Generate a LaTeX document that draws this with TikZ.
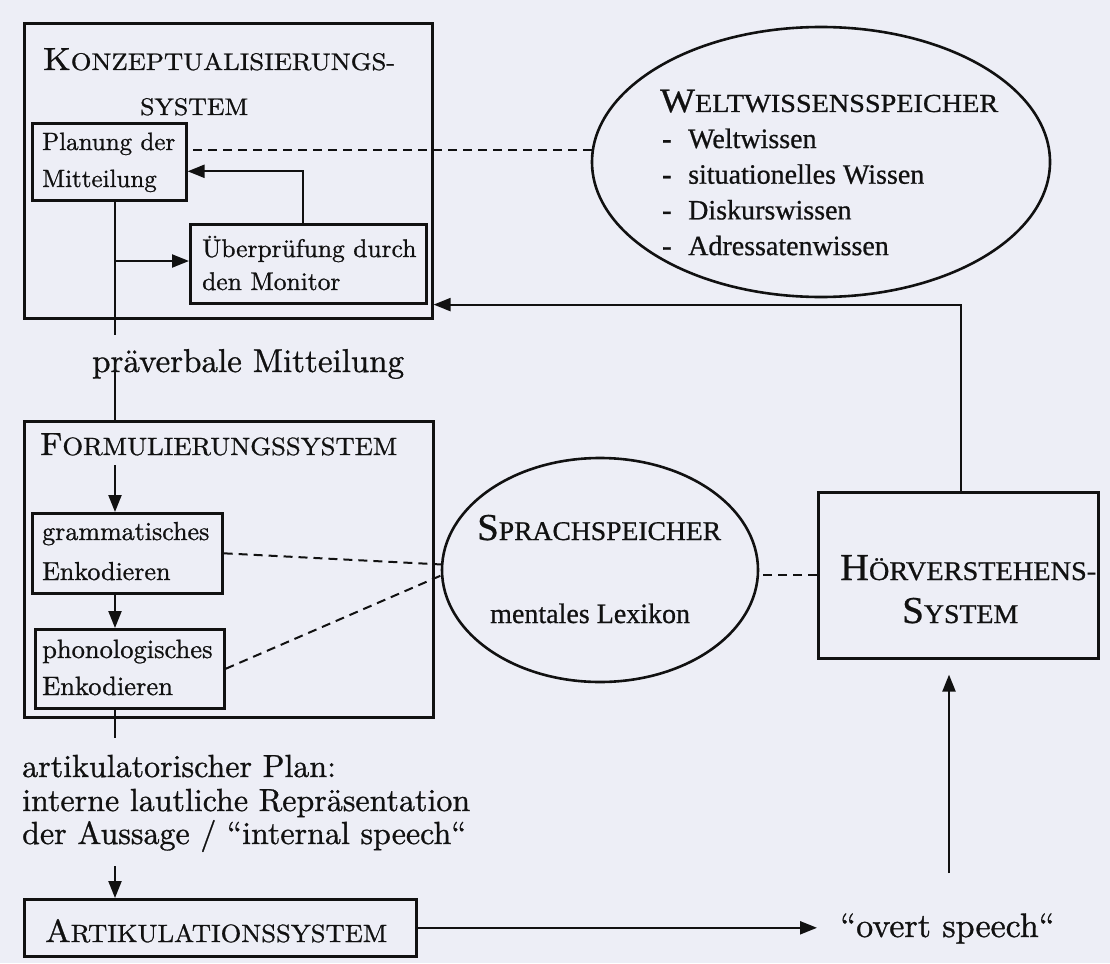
\documentclass[tikz,border=0pt]{standalone}
\usepackage{fontspec}
\usepackage{graphicx}
\usetikzlibrary{arrows.meta,shapes.geometric}
\setmainfont{lmroman10-regular.otf}[FakeBold=0.9]
\newfontfamily\tms{Liberation Serif}[FakeBold=0.7]
\definecolor{bg}{RGB}{237,238,246}
\definecolor{ink}{RGB}{17,17,17}
\newcommand\fs[1]{\fontsize{#1pt}{#1pt}\selectfont}
\newcommand\ttl[5]{\resizebox{#1pt}{\height}{\fs{#2}#4\fs{#3}#5}}
\begin{document}
\begin{tikzpicture}[x=1pt,y=-1pt,
  box/.style={draw=ink,line width=2.6pt,rectangle,inner sep=0pt,anchor=north west},
  lbl/.style={anchor=base west,inner sep=0pt,text=ink},
  conn/.style={draw=ink,line width=2.2pt},
  arr/.style={conn,-{Triangle[length=17pt,width=13pt]}},
  dsh/.style={draw=ink,line width=2pt,dash pattern=on 9pt off 6pt},
  oval/.style={draw=ink,ellipse,line width=2.6pt,inner sep=0pt}]
\fill[bg] (0,0) rectangle (1110,963);
\useasboundingbox (0,0) rectangle (1110,963);
\coordinate (axis) at (115,0);
% Konzeptualisierungssystem
\node[box,minimum width=408pt,minimum height=295pt] (konz) at (23,22) {};
\node[lbl] (konzt1) at (43,70) {\ttl{352}{32}{24}{K}{ONZEPTUALISIERUNGS-}};
\node[lbl] (konzt2) at (140,115) {\ttl{108}{24}{24}{}{SYSTEM}};
\node[box,minimum width=154pt,minimum height=77pt] (plan) at (31,122) {};
\node[lbl,font=\fs{25}] (plan1) at (42,150) {Planung der};
\node[lbl,font=\fs{25}] (plan2) at (42,187) {Mitteilung};
\node[box,minimum width=236pt,minimum height=79pt] (ueb) at (189,223) {};
\node[lbl,font=\fs{25.5}] (ueb1) at (202,257) {Überprüfung durch};
\node[lbl,font=\fs{25.5}] (ueb2) at (202,290) {den Monitor};
% Weltwissensspeicher
\node[oval,minimum width=458pt,minimum height=270pt] (welt) at (821,162) {};
\node[lbl,font=\tms] (weltt) at (660,112) {\ttl{338}{34}{26}{W}{ELTWISSENSSPEICHER}};
\foreach \t [count=\i] in {Weltwissen,situationelles Wissen,Diskurswissen,Adressatenwissen}{
  \node[lbl,font=\tms\fs{28}\bfseries] (wd\i) at (662,{148+35.7*(\i-1)}) {-};
  \node[lbl,font=\tms\fs{28}] (w\i) at (688,{148+35.7*(\i-1)}) {\t};
}
% praeverbale Mitteilung
\node[lbl,font=\fs{33}] (pm) at (92,372) {präverbale Mitteilung};
\coordinate (pmtop) at (115,335);
\coordinate (pmbot) at (115,370);
% Formulierungssystem
\node[box,minimum width=409pt,minimum height=296pt] (form) at (23,420) {};
\node[lbl] (formt) at (40,455) {\ttl{357}{32}{25}{F}{ORMULIERUNGSSYSTEM}};
\coordinate (f0) at (115,465);
\node[box,minimum width=190pt,minimum height=80pt] (gram) at (31,512) {};
\node[lbl,font=\fs{26}] (gram1) at (42,540) {grammatisches};
\node[lbl,font=\fs{26}] (gram2) at (42,580) {Enkodieren};
\node[box,minimum width=189pt,minimum height=79pt] (phon) at (34,628) {};
\node[lbl,font=\fs{26.5}] (phon1) at (42,658) {phonologisches};
\node[lbl,font=\fs{26.5}] (phon2) at (42,695) {Enkodieren};
% Sprachspeicher
\node[oval,minimum width=316pt,minimum height=224pt] (spr) at (600,570) {};
\node[lbl,font=\tms] (sprt) at (477,540) {\ttl{244}{38}{27}{S}{PRACHSPEICHER}};
\node[lbl,font=\tms\fs{28}] (sprl) at (490,623) {mentales Lexikon};
% Hoerverstehenssystem
\node[box,minimum width=280pt,minimum height=166pt] (hoer) at (817,491) {};
\node[lbl,font=\tms] (hoert1) at (840,580) {\ttl{256}{38}{27}{H}{ÖRVERSTEHENS-}};
\node[lbl,font=\tms] (hoert2) at (902,623) {\ttl{116}{38}{27}{S}{YSTEM}};
% artikulatorischer Plan
\coordinate (ap) at (115,738);
\node[lbl,font=\fs{32}] (ap1) at (22,777) {artikulatorischer Plan:};
\node[lbl,font=\fs{32}] (ap2) at (22,811) {interne lautliche Repräsentation};
\node[lbl,font=\fs{32}] (ap3) at (22,844) {der Aussage / “internal speech“};
\coordinate (aa) at (115,866);
% Artikulationssystem
\node[box,minimum width=392pt,minimum height=57pt] (art) at (23,898) {};
\node[lbl] (artt) at (45,942) {\ttl{342}{32}{25}{A}{RTIKULATIONSSYSTEM}};
\node[lbl,font=\fs{34}] (overt) at (840,937) {“overt speech“};
\coordinate (up0) at (949,873);
% connectors
\draw[conn] (axis |- plan.south) -- (pmtop);
\draw[conn] (pmbot) -- (axis |- form.north);
\coordinate (br) at (115,261);
\draw[arr] (br) -- (br -| ueb.west);
\draw[arr] ([xshift=-5pt]ueb.north) |- ([yshift=-9.5pt]plan.east);
\draw[dsh] (welt.177.5) -- (welt.177.5 -| plan.east);
\draw[arr] ([xshift=2.5pt]hoer.north) |- ([yshift=15pt]konz.south east);
\draw[arr] (f0) -- (axis |- gram.north);
\draw[arr] (axis |- gram.south) -- (axis |- phon.north);
\draw[conn] (axis |- phon.south) -- (ap);
\draw[dsh] (gram.east) -- (spr.178.2);
\draw[dsh] (phon.east) -- (spr.182.5);
\draw[dsh] (hoer.west) -- (hoer.west -| spr.east);
\draw[arr] (aa) -- (axis |- art.north);
\draw[arr,shorten >=23pt] (art.east) -- (art.east -| overt.west);
\draw[arr,shorten >=15pt] (up0) -- (up0 |- hoer.south);
\end{tikzpicture}
\end{document}
